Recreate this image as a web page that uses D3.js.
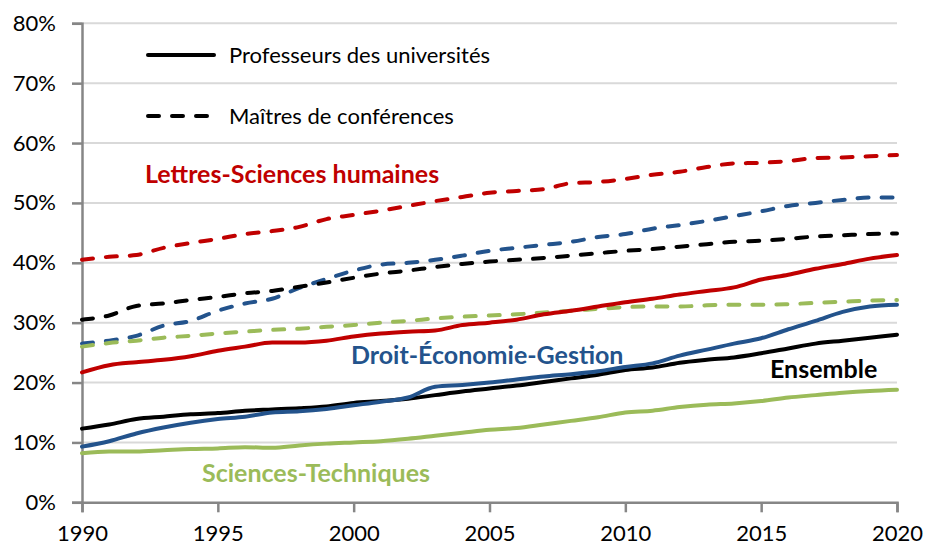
<!DOCTYPE html>
<html>
<head>
    <meta charset='utf-8' />
    <title>Part des femmes</title>
    <script src="https://cdn.jsdelivr.net/npm/d3@7"></script>
    <style>
        body { margin: 0; padding: 0; background: #fff; }
        svg { display: block; font-family: Lato, "Noto Sans", sans-serif; }
    </style>
</head>
<body>
    <div id="chart"></div>
    <script>
        var years = d3.range(1990, 2021);
        var yTicks = [0, 10, 20, 30, 40, 50, 60, 70, 80];
        var xTicks = [1990, 1995, 2000, 2005, 2010, 2015, 2020];

        // professeurs des universités (traits pleins)
        var puEnsemble = [12.3, 13.0, 13.9, 14.3, 14.7, 14.9, 15.3, 15.5, 15.7, 16.0, 16.6, 16.9, 17.3, 17.9, 18.5, 19.0, 19.5, 20.1, 20.7, 21.3, 22.1, 22.5, 23.3, 23.8, 24.2, 24.9, 25.7, 26.5, 27.0, 27.5, 28.0];
        var puDroit = [9.3, 10.2, 11.5, 12.5, 13.3, 13.9, 14.3, 15.0, 15.2, 15.6, 16.2, 16.8, 17.5, 19.3, 19.6, 20.0, 20.5, 21.0, 21.4, 21.9, 22.6, 23.2, 24.5, 25.5, 26.5, 27.4, 28.9, 30.3, 31.8, 32.7, 33.0];
        var puLettres = [21.7, 22.9, 23.4, 23.8, 24.4, 25.3, 26.0, 26.7, 26.7, 27.0, 27.7, 28.2, 28.5, 28.7, 29.6, 30.0, 30.5, 31.4, 32.0, 32.7, 33.4, 34.0, 34.7, 35.3, 35.9, 37.2, 38.0, 39.0, 39.8, 40.7, 41.3];
        var puSciences = [8.2, 8.5, 8.5, 8.7, 8.9, 9.0, 9.2, 9.1, 9.5, 9.8, 10.0, 10.2, 10.6, 11.1, 11.6, 12.1, 12.4, 13.0, 13.6, 14.2, 15.0, 15.3, 15.9, 16.3, 16.5, 16.9, 17.5, 17.9, 18.3, 18.6, 18.8];

        // maîtres de conférences (tirets)
        var mcfEnsemble = [30.5, 31.2, 32.8, 33.2, 33.8, 34.3, 34.9, 35.3, 36.0, 36.7, 37.5, 38.2, 38.7, 39.3, 39.8, 40.2, 40.5, 40.8, 41.2, 41.6, 42.0, 42.3, 42.7, 43.1, 43.5, 43.7, 44.0, 44.4, 44.6, 44.8, 44.9];
        var mcfDroit = [26.5, 27.0, 27.8, 29.5, 30.3, 32.0, 33.2, 34.0, 35.8, 37.3, 38.7, 39.7, 40.0, 40.5, 41.2, 42.0, 42.5, 43.0, 43.5, 44.3, 44.8, 45.7, 46.3, 47.0, 47.8, 48.6, 49.5, 50.0, 50.5, 50.9, 50.9];
        var mcfLettres = [40.5, 41.0, 41.3, 42.5, 43.3, 44.0, 44.8, 45.3, 46.0, 47.3, 48.0, 48.7, 49.5, 50.3, 51.0, 51.7, 52.0, 52.3, 53.3, 53.5, 54.0, 54.7, 55.2, 56.0, 56.6, 56.7, 57.0, 57.5, 57.6, 57.8, 58.0];
        var mcfSciences = [26.0, 26.6, 27.0, 27.5, 27.8, 28.2, 28.5, 28.8, 29.0, 29.3, 29.6, 30.0, 30.3, 30.7, 31.0, 31.2, 31.4, 31.7, 32.0, 32.3, 32.6, 32.7, 32.7, 32.9, 33.0, 33.0, 33.1, 33.3, 33.5, 33.7, 33.8];

        var red = "#c00000", blue = "#23538c", green = "#9bbb59", black = "#000000";

        var series = [
            { values: mcfLettres, color: red, dashed: true },
            { values: mcfDroit, color: blue, dashed: true },
            { values: mcfSciences, color: green, dashed: true },
            { values: mcfEnsemble, color: black, dashed: true },
            { values: puLettres, color: red, dashed: false },
            { values: puSciences, color: green, dashed: false },
            { values: puEnsemble, color: black, dashed: false },
            { values: puDroit, color: blue, dashed: false }
        ];

        var width = 926, height = 546;
        var x = d3.scaleLinear().domain([1990, 2020]).range([82, 897]);
        var y = d3.scaleLinear().domain([0, 80]).range([502.3, 23.3]);

        var svg = d3.select("#chart").append("svg")
            .attr("width", width).attr("height", height);

        // grille
        svg.append("g").selectAll("line")
            .data(yTicks.filter(function (d) { return d > 0; }))
            .enter().append("line")
            .attr("x1", x(1990)).attr("x2", x(2020))
            .attr("y1", function (d) { return y(d); })
            .attr("y2", function (d) { return y(d); })
            .attr("stroke", "#d9d9d9").attr("stroke-width", 2);

        var yAxis = svg.append("g")
            .attr("transform", "translate(" + x(1990) + ",0)")
            .call(d3.axisLeft(y).tickValues(yTicks).tickSize(10).tickPadding(16)
                .tickFormat(function (d) { return d + "%"; }));
        var xAxis = svg.append("g")
            .attr("transform", "translate(0," + y(0) + ")")
            .call(d3.axisBottom(x).tickValues(xTicks).tickSize(10).tickPadding(13)
                .tickFormat(d3.format("d")));

        [yAxis, xAxis].forEach(function (a) {
            a.select(".domain").attr("stroke", "#868686").attr("stroke-width", 2.5);
            a.selectAll(".tick line").attr("stroke", "#868686").attr("stroke-width", 2.5);
            a.selectAll("text").attr("fill", "#000").style("font-size", "22px")
                .style("font-family", "Lato, 'Noto Sans', sans-serif");
        });

        var line = d3.line()
            .x(function (d, i) { return x(years[i]); })
            .y(function (d) { return y(d); })
            .curve(d3.curveMonotoneX);

        svg.append("g").selectAll("path")
            .data(series)
            .enter().append("path")
            .attr("d", function (d) { return line(d.values); })
            .attr("fill", "none")
            .attr("stroke", function (d) { return d.color; })
            .attr("stroke-width", 4)
            .attr("stroke-linecap", "round")
            .attr("stroke-linejoin", "round")
            .attr("stroke-dasharray", function (d) { return d.dashed ? "11,13" : null; });

        // légende
        var legend = [
            { label: "Professeurs des universités", dashed: false, yy: 55 },
            { label: "Maîtres de conférences", dashed: true, yy: 116 }
        ];
        var lg = svg.append("g").selectAll("g").data(legend).enter().append("g");
        lg.append("line")
            .attr("x1", 148).attr("x2", 214)
            .attr("y1", function (d) { return d.yy; }).attr("y2", function (d) { return d.yy; })
            .attr("stroke", "#000").attr("stroke-width", 4)
            .attr("stroke-linecap", "round")
            .attr("stroke-dasharray", function (d) { return d.dashed ? "11,13" : null; });
        lg.append("text")
            .attr("x", 229).attr("y", function (d) { return d.yy; })
            .attr("dy", "0.36em")
            .style("font-size", "22px")
            .text(function (d) { return d.label; });

        // étiquettes des disciplines
        var labels = [
            { text: "Lettres-Sciences humaines", color: red, lx: 145, ly: 173.5 },
            { text: "Droit-Économie-Gestion", color: blue, lx: 351, ly: 355 },
            { text: "Ensemble", color: black, lx: 770, ly: 369 },
            { text: "Sciences-Techniques", color: green, lx: 202, ly: 473 }
        ];
        svg.append("g").selectAll("text").data(labels).enter().append("text")
            .attr("x", function (d) { return d.lx; })
            .attr("y", function (d) { return d.ly; })
            .attr("dy", "0.36em")
            .attr("fill", function (d) { return d.color; })
            .style("font-size", "25px").style("font-weight", "bold")
            .text(function (d) { return d.text; });
    </script>
</body>
</html>
